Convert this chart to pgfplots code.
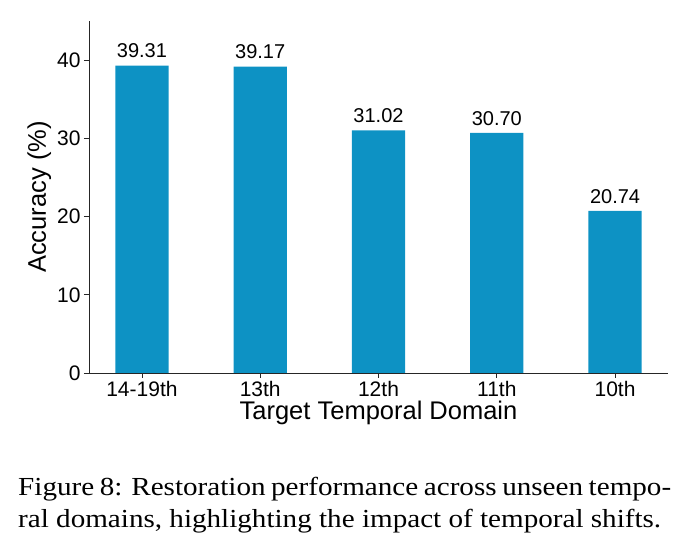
\documentclass[border=0pt]{standalone}
\usepackage{pgfplots}
\pgfplotsset{compat=1.18}
\usepackage{fontspec}
\setmainfont{Liberation Sans}
\newfontfamily\capfont{Liberation Serif}
\definecolor{barblue}{RGB}{13,146,196}

\begin{document}
\begin{tikzpicture}
\useasboundingbox (-89pt,-180pt) rectangle (602pt,373pt);
\begin{axis}[
    at={(0pt,0pt)}, anchor=south west,
    scale only axis,
    width=579pt, height=352pt,
    xmin=-0.4475, xmax=4.4475,
    ymin=0, ymax=45,
    axis x line*=bottom, axis y line*=left,
    axis line style={black!85, line width=0.8pt},
    xtick={0,1,2,3,4},
    xticklabels={14-19th,13th,12th,11th,10th},
    ytick={0,10,20,30,40},
    tick align=outside,
    major tick length=5pt,
    tick style={black!85, line width=0.8pt},
    ticklabel style={font=\fontsize{21}{24}\selectfont},
    /pgf/number format/assume math mode=true,
    xlabel={Target Temporal Domain},
    ylabel={Accuracy (\%)},
    label style={font=\fontsize{25.5}{29}\selectfont},
    xlabel style={yshift=3pt},
    ylabel style={yshift=-1pt},
    ybar, bar width=0.45, bar shift=0pt,
    nodes near coords,
    nodes near coords style={font=\fontsize{20}{23}\selectfont, black, yshift=4pt,
        /pgf/number format/.cd, fixed, fixed zerofill, precision=2, assume math mode=true},
]
\addplot[fill=barblue, draw=none] coordinates {
    (0,39.31) (1,39.17) (2,31.02) (3,30.70) (4,20.74)
};
\end{axis}
\node[anchor=north west, inner sep=0pt, xscale=1.12, transform shape,
      text width=583pt, align=justify,
      font=\capfont\fontsize{26}{32}\selectfont] at (-71pt,-104pt)
  {Figure 8: Restoration performance across unseen tempo-\linebreak ral domains, highlighting the impact of temporal shifts.};
\end{tikzpicture}
\end{document}
